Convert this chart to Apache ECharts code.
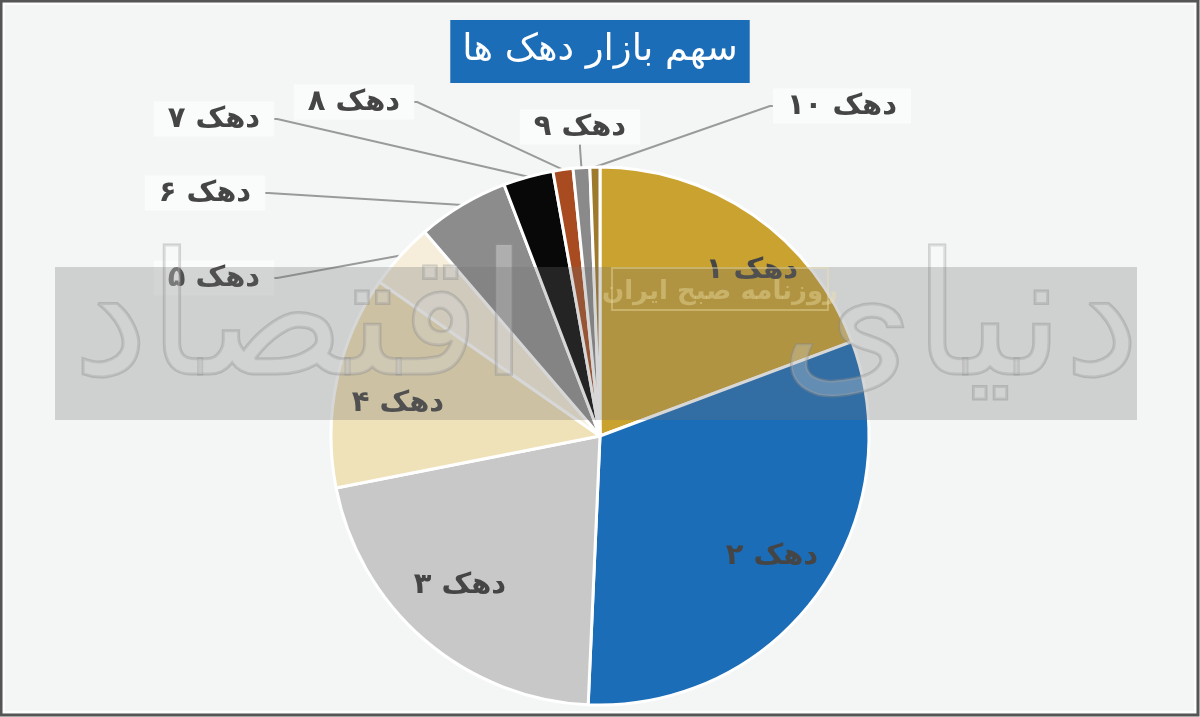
<!DOCTYPE html>
<html>
<head>
<meta charset="utf-8">
<script src="https://cdn.jsdelivr.net/npm/echarts@6/dist/echarts.min.js"></script>
<style>
html,body{margin:0;padding:0;background:#F4F6F6;}
#chart{width:1200px;height:717px;}
</style>
</head>
<body>
<div id="chart"></div>
<script>
// ---- data ----
const chartTitle = 'سهم بازار دهک ها';
const categories = ['دهک ۱','دهک ۲','دهک ۳','دهک ۴','دهک ۵','دهک ۶','دهک ۷','دهک ۸','دهک ۹','دهک ۱۰'];
const shares = [19.3, 31.4, 21.2, 12.8, 4.0, 5.5, 3.0, 1.2, 1.0, 0.6];

// ---- styles ----
const sliceColors = ['#C9A230','#1B6DB7','#C9C8C8','#F0E2B8','#F6EEDB','#8C8C8C','#080808','#A84B20','#8A8A8A','#9E7A2C'];
const labelPos = [[752,270],[772,556],[460,585],[398,403],[214,278],[205,193],[214,119],[354,102],[580,127],[842,106]];
const insideCount = 4;

const chart = echarts.init(document.getElementById('chart'), null, {renderer:'canvas'});

const data = categories.map((name, i) => ({
  name: name,
  value: shares[i],
  itemStyle: {color: sliceColors[i]},
  label: i < insideCount
    ? {position:'inside'}
    : {position:'outside', backgroundColor:'rgba(255,255,255,0.55)', padding:[4,14,2,14]},
  labelLine: {show: i >= insideCount}
}));

const option = {
  backgroundColor: '#F4F6F6',
  animation: false,
  title: {
    text: chartTitle,
    left: 'center',
    top: 20,
    backgroundColor: '#1B6DB7',
    padding: [12, 12, 14, 12],
    textStyle: {color:'#ffffff', fontSize:37, fontWeight:'normal', fontFamily:'DejaVu Sans'}
  },
  series: [{
    type: 'pie',
    center: ['50%', 436],
    radius: 269,
    startAngle: 90,
    clockwise: true,
    avoidLabelOverlap: false,
    itemStyle: {borderColor:'#ffffff', borderWidth:3},
    label: {
      show: true,
      formatter: '{b}',
      color: '#454545',
      fontSize: 29,
      fontWeight: 'bold',
      fontFamily: 'DejaVu Sans'
    },
    labelLine: {
      show: true,
      length: 10,
      length2: 3,
      smooth: false,
      lineStyle: {color:'#9A9A9A', width:2}
    },
    labelLayout: function (params) {
      const p = labelPos[params.dataIndex];
      return {x: p[0], y: p[1], align: 'center', verticalAlign: 'middle'};
    },
    data: data
  }],
  graphic: [
    {type:'rect', z:0, silent:true, shape:{x:1,y:1,width:1197,height:714},
     style:{fill:'none', stroke:'#555555', lineWidth:3}},
    {type:'rect', z:0, silent:true, shape:{x:4,y:4,width:1191,height:708},
     style:{fill:'none', stroke:'#ffffff', lineWidth:1.5}},
    // watermark band
    {type:'rect', z:100, silent:true, shape:{x:55,y:267,width:1082,height:153},
     style:{fill:'rgba(110,110,110,0.28)'}},
    {type:'rect', z:100, silent:true, shape:{x:612,y:268,width:216,height:42},
     style:{fill:'none', stroke:'rgba(240,225,170,0.4)', lineWidth:2}},
    {type:'text', z:101, silent:true, x:720, y:292,
     style:{text:'روزنامه صبح ایران', fill:'rgba(240,225,170,0.4)', fontSize:26, fontWeight:'bold', fontFamily:'DejaVu Sans', align:'center', verticalAlign:'middle'}},
    {type:'text', z:99, silent:true, x:300, y:330,
     style:{text:'اقتصاد', fill:'rgba(255,255,255,0.3)', stroke:'rgba(150,150,150,0.4)', lineWidth:3, fontSize:170, fontFamily:'DejaVu Sans', align:'center', verticalAlign:'middle'}},
    {type:'text', z:99, silent:true, x:960, y:330,
     style:{text:'دنیای', fill:'rgba(255,255,255,0.3)', stroke:'rgba(150,150,150,0.4)', lineWidth:3, fontSize:170, fontFamily:'DejaVu Sans', align:'center', verticalAlign:'middle'}}
  ]
};
chart.setOption(option);
</script>
</body>
</html>
